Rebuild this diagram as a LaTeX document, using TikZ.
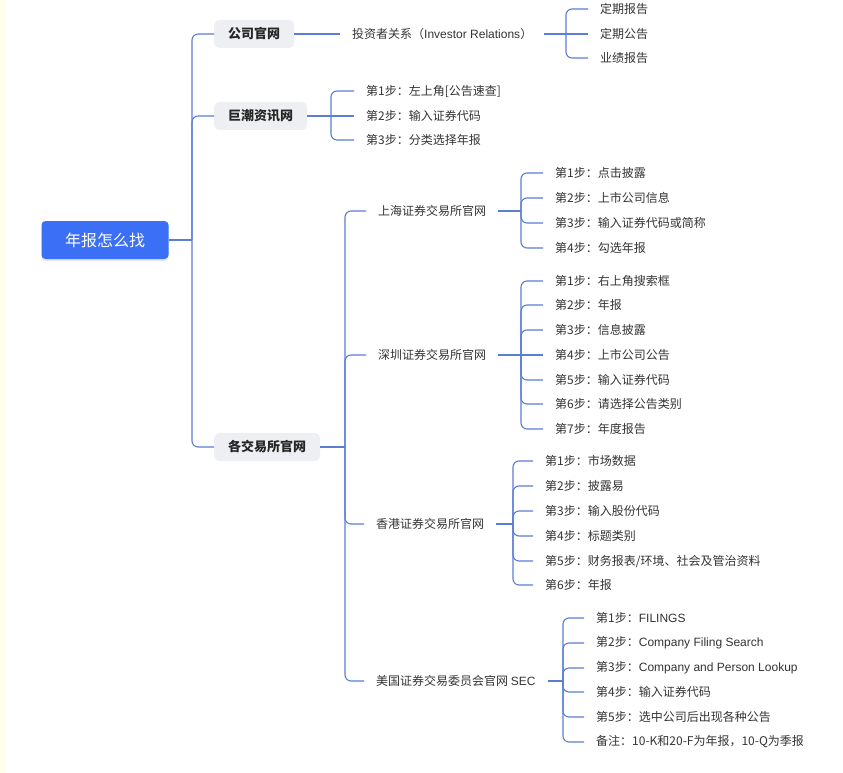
\documentclass[tikz,border=0pt]{standalone}
\usepackage{fontspec}
\setmainfont{Noto Sans CJK SC}
\newfontfamily\latin{Liberation Sans}
\usetikzlibrary{shadows}
\definecolor{rootblue}{HTML}{3B6FF6}
\definecolor{linkblue}{HTML}{5B7DD3}
\definecolor{topicgray}{HTML}{EEEFF2}
\definecolor{txtgray}{HTML}{333333}
\definecolor{edgeyellow}{HTML}{FFFFEC}

\begin{document}
\begin{tikzpicture}[x=1pt, y=-1pt,
    root/.style={rectangle, rounded corners=4pt, fill=rootblue, text=white,
                 minimum width=127pt, minimum height=38pt,
                 font=\fontsize{16}{18}\selectfont,
                 drop shadow={fill=rootblue!50, opacity=0.35, shadow xshift=0pt, shadow yshift=-2pt}},
    topic/.style={rectangle, rounded corners=5pt, fill=topicgray, text=black!85,
                  minimum height=28pt, inner xsep=14pt, anchor=west,
                  font=\fontsize{13}{15}\selectfont\bfseries},
    sub/.style={anchor=west, inner xsep=12pt, inner ysep=2pt, text=txtgray,
                font=\fontsize{12}{14}\selectfont},
    link/.style={linkblue, line width=1.1pt, rounded corners=6pt}
]
\useasboundingbox (0,0) rectangle (843,773);
\fill[edgeyellow] (0,0) rectangle (6,773);

\node[root] (root) at (105,240) {年报怎么找};
\node[topic] (gw) at (214,34) {公司官网};
\node[topic] (cn) at (214,116) {巨潮资讯网};
\node[topic] (jys) at (214,447) {各交易所官网};

\coordinate (trunk) at (192,240);
\draw[link] (root.east) -- (trunk);
\draw[link] (trunk) |- (gw.west);
\draw[link] (trunk) |- (cn.west);
\draw[link] (trunk) |- (jys.west);

% 公司官网
\node[sub] (ir) at (340,34) {投资者关系（{\latin Investor Relations}）};
\draw[link] (gw.east) -- (ir.west);
\node[sub] (ir1) at (588,9) {定期报告};
\node[sub] (ir2) at (588,34) {定期公告};
\node[sub] (ir3) at (588,58) {业绩报告};
\coordinate (irb) at (566,34);
\draw[link] (ir.east) -- (irb);
\draw[link] (irb) |- (ir1.west);
\draw[link] (irb) -- (ir2.west);
\draw[link] (irb) |- (ir3.west);

% 巨潮资讯网
\node[sub] (cn1) at (354,91) {第1步：左上角[公告速查]};
\node[sub] (cn2) at (354,116) {第2步：输入证券代码};
\node[sub] (cn3) at (354,140) {第3步：分类选择年报};
\coordinate (cnb) at (331,116);
\draw[link] (cn.east) -- (cnb);
\draw[link] (cnb) |- (cn1.west);
\draw[link] (cnb) -- (cn2.west);
\draw[link] (cnb) |- (cn3.west);

% 各交易所官网
\node[sub] (sh) at (366,211) {上海证券交易所官网};
\node[sub] (sz) at (366,355) {深圳证券交易所官网};
\node[sub] (hk) at (364,524) {香港证券交易所官网};
\node[sub] (us) at (364,681) {美国证券交易委员会官网 {\latin SEC}};
\coordinate (jysb) at (345,447);
\draw[link] (jys.east) -- (jysb);
\draw[link] (jysb) |- (sh.west);
\draw[link] (jysb) |- (sz.west);
\draw[link] (jysb) |- (hk.west);
\draw[link] (jysb) |- (us.west);

\node[sub] (sh1) at (543,173) {第1步：点击披露};
\node[sub] (sh2) at (543,198) {第2步：上市公司信息};
\node[sub] (sh3) at (543,223) {第3步：输入证券代码或简称};
\node[sub] (sh4) at (543,248) {第4步：勾选年报};
\coordinate (shb) at (521,211);
\draw[link] (sh.east) -- (shb);
\draw[link] (shb) |- (sh1.west);
\draw[link] (shb) |- (sh2.west);
\draw[link] (shb) |- (sh3.west);
\draw[link] (shb) |- (sh4.west);

\node[sub] (sz1) at (543,281) {第1步：右上角搜索框};
\node[sub] (sz2) at (543,305) {第2步：年报};
\node[sub] (sz3) at (543,330) {第3步：信息披露};
\node[sub] (sz4) at (543,355) {第4步：上市公司公告};
\node[sub] (sz5) at (543,380) {第5步：输入证券代码};
\node[sub] (sz6) at (543,404) {第6步：请选择公告类别};
\node[sub] (sz7) at (543,429) {第7步：年度报告};
\coordinate (szb) at (521,355);
\draw[link] (sz.east) -- (szb);
\draw[link] (szb) |- (sz1.west);
\draw[link] (szb) |- (sz2.west);
\draw[link] (szb) |- (sz3.west);
\draw[link] (szb) -- (sz4.west);
\draw[link] (szb) |- (sz5.west);
\draw[link] (szb) |- (sz6.west);
\draw[link] (szb) |- (sz7.west);

\node[sub] (hk1) at (533,461) {第1步：市场数据};
\node[sub] (hk2) at (533,486) {第2步：披露易};
\node[sub] (hk3) at (533,511) {第3步：输入股份代码};
\node[sub] (hk4) at (533,536) {第4步：标题类别};
\node[sub] (hk5) at (533,561) {第5步：财务报表/环境、社会及管治资料};
\node[sub] (hk6) at (533,585) {第6步：年报};
\coordinate (hkb) at (513,524);
\draw[link] (hk.east) -- (hkb);
\draw[link] (hkb) |- (hk1.west);
\draw[link] (hkb) |- (hk2.west);
\draw[link] (hkb) |- (hk3.west);
\draw[link] (hkb) |- (hk4.west);
\draw[link] (hkb) |- (hk5.west);
\draw[link] (hkb) |- (hk6.west);

\node[sub] (us1) at (584,618) {第1步：{\latin FILINGS}};
\node[sub] (us2) at (584,643) {第2步：{\latin Company Filing Search}};
\node[sub] (us3) at (584,668) {第3步：{\latin Company and Person Lookup}};
\node[sub] (us4) at (584,692) {第4步：输入证券代码};
\node[sub] (us5) at (584,717) {第5步：选中公司后出现各种公告};
\node[sub] (us6) at (584,742) {备注：10-K和20-F为年报，10-Q为季报};
\coordinate (usb) at (563,681);
\draw[link] (us.east) -- (usb);
\draw[link] (usb) |- (us1.west);
\draw[link] (usb) |- (us2.west);
\draw[link] (usb) |- (us3.west);
\draw[link] (usb) |- (us4.west);
\draw[link] (usb) |- (us5.west);
\draw[link] (usb) |- (us6.west);
\end{tikzpicture}
\end{document}
